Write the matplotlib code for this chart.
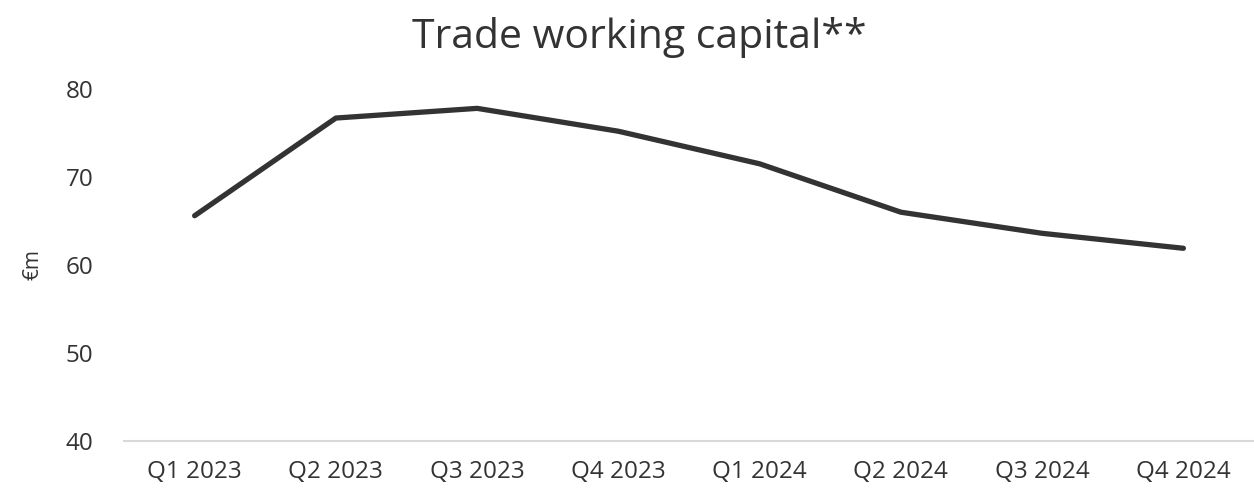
import matplotlib.pyplot as plt

quarters = ["Q1 2023", "Q2 2023", "Q3 2023", "Q4 2023",
            "Q1 2024", "Q2 2024", "Q3 2024", "Q4 2024"]
twc = [65.6, 76.7, 77.8, 75.2, 71.5, 66.0, 63.6, 61.9]
yticks = [40, 50, 60, 70, 80]

plt.rcParams['font.family'] = ['Open Sans', 'DejaVu Sans']

fig = plt.figure(figsize=(12.54, 4.95), dpi=100)
ax = fig.add_axes([124 / 1254, 54 / 495, 1 - 124 / 1254, (441 - 89) / 495])

x = range(len(quarters))
ax.plot(x, twc, color="#333333", linewidth=3.8, solid_capstyle="round")

ax.set_xlim(-0.5, 7.5)
ax.set_ylim(40, 80)
ax.set_yticks(yticks)
ax.set_xticks(list(x))
ax.set_xticklabels(quarters)
ax.tick_params(length=0, labelsize=17.5, colors="#333333")
ax.tick_params(axis="x", pad=14)
ax.tick_params(axis="y", pad=22)

for s in ["top", "right", "left"]:
    ax.spines[s].set_visible(False)
ax.spines["bottom"].set_color("#d9d9d9")
ax.spines["bottom"].set_linewidth(1.5)

ax.set_ylabel("€m", fontsize=15, color="#333333", labelpad=16)
fig.text(0.51, 0.925, "Trade working capital**", ha="center", va="center",
         fontsize=29.5, color="#333333")

fig.savefig("out.png", dpi=100)
